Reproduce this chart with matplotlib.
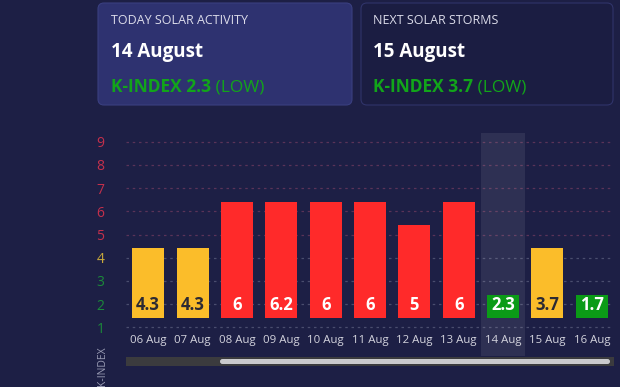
import numpy as np
import matplotlib.pyplot as plt
from matplotlib.patches import FancyBboxPatch, Rectangle

plt.rcParams['font.family'] = ['Open Sans', 'DejaVu Sans']

# data
dates = ['06 Aug', '07 Aug', '08 Aug', '09 Aug', '10 Aug', '11 Aug',
         '12 Aug', '13 Aug', '14 Aug', '15 Aug', '16 Aug']
kindex = [4.3, 4.3, 6, 6.2, 6, 6, 5, 6, 2.3, 3.7, 1.7]
today = '14 Aug'
yticks = [1, 2, 3, 4, 5, 6, 7, 8, 9]

BG = '#1d1f45'
RED = '#ff2a2a'
YEL = '#fbbd2a'
GRN = '#0b9b17'


def level_color(lv):
    if lv >= 5:
        return RED
    if lv == 4:
        return YEL
    return GRN


def tick_color(lv):
    if lv >= 5:
        return '#c4304c'
    if lv == 4:
        return '#c9a93c'
    return '#1b8a3a'


W, H = 620, 387
fig = plt.figure(figsize=(W / 100, H / 100), dpi=100, facecolor=BG)

# background axes in pixel coords
bg = fig.add_axes([0, 0, 1, 1])
bg.set_xlim(0, W)
bg.set_ylim(H, 0)
bg.axis('off')
bg.set_facecolor(BG)

# cards
bg.add_patch(FancyBboxPatch((98, 3), 254, 102, boxstyle='round,pad=0,rounding_size=6',
                            fc='#2e3270', ec='#3a3f80', lw=0.8))
bg.add_patch(FancyBboxPatch((361, 3), 252, 102, boxstyle='round,pad=0,rounding_size=6',
                            fc='#1b1d42', ec='#30346a', lw=0.8))

cards = [(111, 'TODAY SOLAR ACTIVITY', '14 August', '2.3'),
         (373, 'NEXT SOLAR STORMS', '15 August', '3.7')]
for x0, title, day, val in cards:
    bg.text(x0, 21, title, color='#dcdcea', fontsize=9, va='center', ha='left')
    bg.text(x0, 52, day, color='white', fontsize=13.5, fontweight='bold', va='center', ha='left')
    t = bg.text(x0, 92, 'K-INDEX ' + val, color='#12a51a', fontsize=12.5, fontweight='bold',
                va='baseline', ha='left')
    bg.annotate(' (LOW)', xy=(1, 0), xycoords=t, color='#12a51a', fontsize=12.5,
                va='bottom', ha='left')

# scrollbar
bg.add_patch(Rectangle((126, 357), 488, 9, fc='#3b3b3e', ec='none'))
bg.add_patch(FancyBboxPatch((220, 359), 390, 5, boxstyle='round,pad=0,rounding_size=2.5',
                            fc='#c9c9cc', ec='none'))
bg.text(102, 366, 'K-INDEX', rotation=90, color='#9a9cb4', fontsize=7.5, ha='center', va='center')

# chart axes
ymin, ymax = 0.9, 9.4
top_px = 141.7 - (ymax - 9) * 23.2
bot_px = 141.7 + (9 - ymin) * 23.2
ax = fig.add_axes([126 / W, 1 - bot_px / H, 488 / W, (bot_px - top_px) / H])
ax.set_facecolor('none')
ax.set_xlim(-0.5, len(dates) - 0.5)
ax.set_ylim(ymin, ymax)
for s in ax.spines.values():
    s.set_visible(False)

x = np.arange(len(dates))
levels = [int(round(v)) for v in kindex]
base = 1.39

for yv in yticks:
    c = '#5a3358' if yv >= 5 else '#4a4d6e'
    ax.axhline(yv, color=c, lw=0.9, ls=(0, (2, 3)), zorder=1)

ti = dates.index(today)
ax.add_patch(Rectangle((ti - 0.5, -0.25), 1, 9.62, fc='white', alpha=0.08, ec='none',
                       clip_on=False, zorder=1))

ax.bar(x, [lv + 0.41 - base for lv in levels], bottom=base, width=0.72,
       color=[level_color(lv) for lv in levels], zorder=2)

for xi, v, lv in zip(x, kindex, levels):
    tc = '#2c2a33' if lv == 4 else 'white'
    ax.text(xi, 1.98, f'{v:g}', color=tc, fontsize=12, fontweight='bold',
            ha='center', va='center', zorder=3)

ax.set_xticks(x)
ax.set_xticklabels(dates, color='#d4d4de', fontsize=8.2)
ax.tick_params(axis='x', length=0, pad=4)
ax.set_yticks(yticks)
ax.set_yticklabels([str(v) for v in yticks], fontsize=10)
for lab, v in zip(ax.get_yticklabels(), yticks):
    lab.set_color(tick_color(v))
ax.tick_params(axis='y', length=0, pad=15.5)

fig.savefig('out.png', dpi=100, facecolor=BG)
